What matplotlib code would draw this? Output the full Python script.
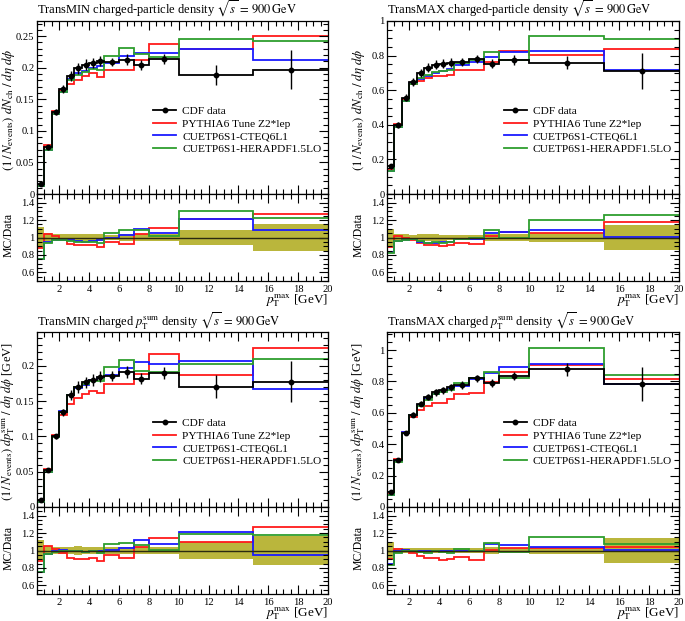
import numpy as np
import matplotlib
matplotlib.use('Agg')
import matplotlib.pyplot as plt
from matplotlib.ticker import MultipleLocator, FuncFormatter
from matplotlib.lines import Line2D

plt.rcParams['font.family'] = ['Liberation Serif', 'DejaVu Serif']
plt.rcParams['mathtext.fontset'] = 'stix'

# ---------------- data ----------------
bin_edges = [0.5, 1.0, 1.5, 2.0, 2.5, 3.0, 3.5, 4.0, 4.5, 5.0, 6.0, 7.0, 8.0, 10.0, 15.0, 20.0]
series_names = ["CDF data", "PYTHIA6 Tune Z2*lep", "CUETP6S1-CTEQ6L1", "CUETP6S1-HERAPDF1.5LO"]

# TransMIN charged-particle density
data1 = [0.016, 0.074, 0.130, 0.166, 0.187, 0.199, 0.205, 0.208, 0.210, 0.209, 0.213, 0.204, 0.214, 0.188, 0.197]
err1 = [0.002, 0.004, 0.005, 0.006, 0.008, 0.009, 0.009, 0.008, 0.008, 0.007, 0.008, 0.008, 0.008, 0.016, 0.031]
red1 = [0.014, 0.077, 0.132, 0.163, 0.174, 0.181, 0.187, 0.191, 0.186, 0.197, 0.197, 0.212, 0.238, 0.229, 0.251]
blue1 = [0.012, 0.070, 0.127, 0.162, 0.182, 0.191, 0.195, 0.199, 0.203, 0.208, 0.218, 0.224, 0.224, 0.229, 0.213]
green1 = [0.012, 0.069, 0.126, 0.161, 0.180, 0.189, 0.194, 0.198, 0.196, 0.219, 0.231, 0.221, 0.217, 0.246, 0.242]

# TransMAX charged-particle density
data2 = [0.159, 0.399, 0.557, 0.649, 0.700, 0.731, 0.747, 0.754, 0.758, 0.764, 0.780, 0.754, 0.773, 0.760, 0.710]
err2 = [0.016, 0.016, 0.020, 0.022, 0.025, 0.026, 0.026, 0.026, 0.026, 0.025, 0.025, 0.028, 0.028, 0.040, 0.105]
red2 = [0.141, 0.405, 0.551, 0.633, 0.655, 0.672, 0.680, 0.680, 0.690, 0.716, 0.718, 0.765, 0.826, 0.802, 0.836]
blue2 = [0.133, 0.385, 0.540, 0.640, 0.665, 0.684, 0.700, 0.713, 0.720, 0.748, 0.765, 0.790, 0.818, 0.825, 0.715]
green2 = [0.131, 0.385, 0.540, 0.637, 0.668, 0.688, 0.705, 0.710, 0.718, 0.755, 0.772, 0.818, 0.773, 0.912, 0.897]

# TransMIN charged pTsum density
data3 = [0.0095, 0.052, 0.100, 0.1345, 0.159, 0.170, 0.1765, 0.180, 0.1845, 0.1855, 0.1915, 0.182, 0.190, 0.1705, 0.1775]
err3 = [0.0012, 0.0025, 0.004, 0.005, 0.007, 0.008, 0.008, 0.008, 0.008, 0.007, 0.008, 0.008, 0.008, 0.016, 0.029]
red3 = [0.0084, 0.0545, 0.102, 0.131, 0.146, 0.154, 0.160, 0.164, 0.162, 0.175, 0.175, 0.189, 0.217, 0.187, 0.225]
blue3 = [0.0071, 0.0497, 0.099, 0.1358, 0.159, 0.1683, 0.173, 0.180, 0.1827, 0.1874, 0.1972, 0.2048, 0.2033, 0.2063, 0.1677]
green3 = [0.0071, 0.0497, 0.0985, 0.1345, 0.1582, 0.170, 0.1739, 0.1782, 0.179, 0.1985, 0.2087, 0.1929, 0.1919, 0.202, 0.2095]

# TransMAX charged pTsum density
data4 = [0.094, 0.297, 0.471, 0.589, 0.659, 0.702, 0.730, 0.745, 0.762, 0.777, 0.819, 0.790, 0.836, 0.877, 0.783]
err4 = [0.009, 0.009, 0.012, 0.015, 0.018, 0.020, 0.022, 0.022, 0.023, 0.023, 0.025, 0.028, 0.025, 0.040, 0.110]
red4 = [0.0845, 0.303, 0.476, 0.573, 0.616, 0.643, 0.664, 0.663, 0.690, 0.721, 0.729, 0.798, 0.861, 0.903, 0.814]
blue4 = [0.079, 0.294, 0.476, 0.589, 0.652, 0.695, 0.723, 0.737, 0.754, 0.773, 0.815, 0.853, 0.890, 0.908, 0.785]
green4 = [0.078, 0.287, 0.471, 0.586, 0.646, 0.684, 0.723, 0.734, 0.743, 0.793, 0.819, 0.861, 0.823, 1.011, 0.844]

titles = [
    r'TransMIN charged-particle density $\sqrt{s}\,=\,900\,\mathrm{GeV}$',
    r'TransMAX charged-particle density $\sqrt{s}\,=\,900\,\mathrm{GeV}$',
    r'TransMIN charged $p_{\mathrm{T}}^{\mathrm{sum}}$ density $\sqrt{s}\,=\,900\,\mathrm{GeV}$',
    r'TransMAX charged $p_{\mathrm{T}}^{\mathrm{sum}}$ density $\sqrt{s}\,=\,900\,\mathrm{GeV}$',
]
ylab_nch = r'$(1\,/\,N_{\mathrm{events}})\ dN_{\mathrm{ch}}\ /\ d\eta\ d\phi$'
ylab_pt = r'$(1\,/\,N_{\mathrm{events}})\ dp_{\mathrm{T}}^{\mathrm{sum}}\ /\ d\eta\ d\phi$ [GeV]'
xlab = r'$p_{\mathrm{T}}^{\mathrm{max}}$ [GeV]'

panels = [
    dict(data=data1, err=err1, mc=[red1, blue1, green1], title=titles[0], ylab=ylab_nch, ylfs=9.3,
         ymax=0.274, major=0.05, minor=0.01),
    dict(data=data2, err=err2, mc=[red2, blue2, green2], title=titles[1], ylab=ylab_nch, ylfs=9.3,
         ymax=1.0, major=0.2, minor=0.05),
    dict(data=data3, err=err3, mc=[red3, blue3, green3], title=titles[2], ylab=ylab_pt, ylfs=9.0,
         ymax=0.248, major=0.05, minor=0.01),
    dict(data=data4, err=err4, mc=[red4, blue4, green4], title=titles[3], ylab=ylab_pt, ylfs=9.0,
         ymax=1.115, major=0.2, minor=0.05),
]

mc_colors = ['#ff1a1a', '#1a1aff', '#2e9e2e']
band_color = '#bab63c'

# ---------------- layout (pixels) ----------------
W, H = 685, 621
fig = plt.figure(figsize=(W / 100, H / 100), dpi=100)

def rect(l, r, t, b):
    return [l / W, 1 - b / H, (r - l) / W, (b - t) / H]

cols = [(37, 328), (387, 679)]
rows = [(21, 194, 281), (332, 507, 594)]

fmt = FuncFormatter(lambda v, p: f'{v:g}' if abs(v) > 1e-9 else '0')
edges = np.array(bin_edges)
centers = 0.5 * (edges[:-1] + edges[1:])

def style(ax):
    ax.tick_params(which='both', direction='in', top=True, right=True, labelsize=7.6, pad=1.8, width=0.8)
    ax.tick_params(which='major', length=6.5)
    ax.tick_params(which='minor', length=3.5)
    for s in ax.spines.values():
        s.set_linewidth(0.9)
    ax.set_xlim(0.5, 20)
    ax.xaxis.set_major_locator(MultipleLocator(2))
    ax.xaxis.set_minor_locator(MultipleLocator(0.5))
    ax.yaxis.set_major_formatter(fmt)

for i, p in enumerate(panels):
    l, r = cols[i % 2]
    t, m, b = rows[i // 2]
    ax = fig.add_axes(rect(l, r, t, m))
    axr = fig.add_axes(rect(l, r, m, b))
    style(ax)
    style(axr)
    axr.tick_params(axis='x', pad=3)

    data = np.array(p['data'])
    err = np.array(p['err'])

    # main panel
    for vals, c in zip(p['mc'], mc_colors):
        ax.stairs(vals, edges, color=c, lw=1.3, baseline=None)
    ax.stairs(data, edges, color='k', lw=1.3, baseline=None)
    ax.errorbar(centers, data, yerr=err, fmt='o', ms=3.2, color='k', elinewidth=1.0, capsize=0)
    ax.set_ylim(0, p['ymax'])
    ax.yaxis.set_major_locator(MultipleLocator(p['major']))
    ax.yaxis.set_minor_locator(MultipleLocator(p['minor']))
    ax.tick_params(labelbottom=False)

    handles = [Line2D([], [], color='k', marker='o', ms=3.2, lw=1.3)] + \
              [Line2D([], [], color=c, lw=1.3) for c in mc_colors]
    ax.legend(handles, series_names, loc='upper left', bbox_to_anchor=(0.40, 0.51),
              frameon=False, fontsize=8.2, handlelength=2.0, handletextpad=0.55,
              labelspacing=0.25, borderpad=0, borderaxespad=0)

    # ratio panel
    rel = err / data
    axr.stairs(1 + rel, edges, baseline=1 - rel, fill=True, color=band_color, lw=0)
    axr.axhline(1.0, color='#2a2a10', lw=1.0)
    for vals, c in zip(p['mc'], mc_colors):
        axr.stairs(np.array(vals) / data, edges, color=c, lw=1.3, baseline=None)
    axr.set_ylim(0.5, 1.5)
    axr.yaxis.set_major_locator(MultipleLocator(0.2))
    axr.yaxis.set_minor_locator(MultipleLocator(0.05))
    axr.set_yticks([0.6, 0.8, 1.0, 1.2, 1.4])

    # texts
    fig.text(l / W, 1 - (t - 7) / H, p['title'], fontsize=9.0, ha='left', va='baseline')
    xl = l - 28.5
    fig.text(xl / W, 1 - ((t + m) / 2 + 2) / H, p['ylab'], rotation=90, fontsize=p['ylfs'],
             ha='center', va='center')
    fig.text(xl / W, 1 - ((m + b) / 2 - 3) / H, 'MC/Data', rotation=90, fontsize=8.5,
             ha='center', va='center')
    fig.text(r / W, 1 - (b + 20) / H, xlab, fontsize=9.5, ha='right', va='center')

fig.savefig('out.png', dpi=100)
